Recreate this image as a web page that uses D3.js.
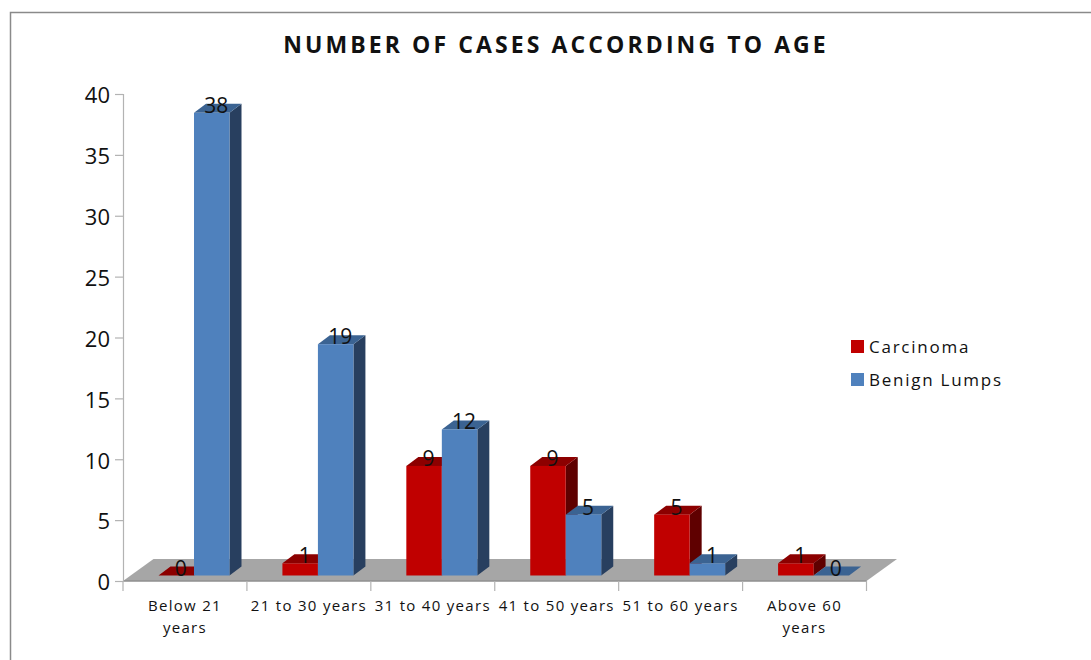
<!DOCTYPE html>
<html>
<head>
<meta charset="utf-8">
<script src="https://cdn.jsdelivr.net/npm/d3@7/dist/d3.min.js"></script>
<style>
  html, body { margin: 0; padding: 0; background: #fff; }
  svg { display: block; }
  text { font-family: "Open Sans", "Noto Sans", sans-serif; fill: #111; }
</style>
</head>
<body>
<svg id="chart" width="1091" height="660"></svg>
<script>
const categories = ['Below 21 years', '21 to 30 years', '31 to 40 years', '41 to 50 years', '51 to 60 years', 'Above 60 years'];
const wrappedLabels = [['Below 21', 'years'], ['21 to 30 years'], ['31 to 40 years'], ['41 to 50 years'], ['51 to 60 years'], ['Above 60', 'years']];
const seriesNames = ['Carcinoma', 'Benign Lumps'];
const carcinoma = [0, 1, 9, 9, 5, 1];
const benignLumps = [38, 19, 12, 5, 1, 0];
const yTicks = [0, 5, 10, 15, 20, 25, 30, 35, 40];
const chartTitle = 'NUMBER OF CASES ACCORDING TO AGE';

const svg = d3.select('#chart');

/* Scales */
const x0 = d3.scaleBand().domain(categories).range([123, 866.5]);
const x1 = d3.scaleBand().domain(seriesNames).range([35.5, 106.5]);
const y = d3.scaleLinear().domain([0, 40]).range([581, 94]);

const colors = {
  Carcinoma: { front: '#c00000', top: '#8c0000', side: '#5f0000' },
  'Benign Lumps': { front: '#4f81bd', top: '#3b6392', side: '#283f5f' }
};

/* Bars stand a little behind the front edge of the floor */
const barLift = 5.5;
const barDx = 12, barDy = 9;
const floorDx = 30.5, floorDy = 22;

/* Outer frame */
svg.append('path')
  .attr('d', 'M10.5,660V12.5H1091')
  .attr('fill', 'none')
  .attr('stroke', '#8a8a8a')
  .attr('stroke-width', 1.5);

/* Title */
svg.append('text')
  .attr('x', 556)
  .attr('y', 53)
  .attr('text-anchor', 'middle')
  .attr('font-size', 23)
  .attr('font-weight', 700)
  .attr('letter-spacing', 3.1)
  .text(chartTitle);

/* Floor */
const [fl, fr] = x0.range();
const fy = y(0);
svg.append('polygon')
  .attr('points', [[fl, fy], [fr, fy], [fr + floorDx, fy - floorDy], [fl + floorDx, fy - floorDy]].join(' '))
  .attr('fill', '#a6a6a6');
svg.append('line')
  .attr('x1', fl).attr('x2', fr).attr('y1', fy).attr('y2', fy)
  .attr('stroke', '#8f8f8f').attr('stroke-width', 1.5);

/* Y Axis */
const yAxis = d3.axisLeft(y).tickValues(yTicks).tickSize(8).tickPadding(5).tickSizeOuter(8);
const yG = svg.append('g').attr('transform', 'translate(123,0)').call(yAxis);
yG.selectAll('path, line').attr('stroke', '#b3b3b3').attr('stroke-width', 1.2);
yG.selectAll('text').attr('font-size', 22).attr('dy', '0.4em').attr('font-family', '"Open Sans", sans-serif').attr('fill', '#111');

/* X Axis, ticks sit on the category boundaries */
const xAxis = d3.axisBottom(x0).tickSize(0).tickPadding(15).tickFormat('');
const xG = svg.append('g').attr('transform', `translate(0,${fy})`).call(xAxis);
xG.select('path').remove();
xG.selectAll('.tick').remove();
xG.selectAll('line.boundary')
  .data(d3.range(categories.length + 1))
  .enter()
  .append('line')
  .attr('class', 'boundary')
  .attr('x1', i => fl + i * x0.step())
  .attr('x2', i => fl + i * x0.step())
  .attr('y1', 0)
  .attr('y2', 10)
  .attr('stroke', '#b3b3b3')
  .attr('stroke-width', 1.2);

const xLabels = xG.selectAll('text.cat')
  .data(categories)
  .enter()
  .append('text')
  .attr('class', 'cat')
  .attr('text-anchor', 'middle')
  .attr('font-size', 15)
  .attr('letter-spacing', 1.3);
xLabels.selectAll('tspan')
  .data((d, i) => wrappedLabels[i].map(line => ({ line, x: x0(d) + x0.bandwidth() / 2 })))
  .enter()
  .append('tspan')
  .attr('x', d => d.x)
  .attr('y', (d, i) => 30 + i * 22)
  .text(d => d.line);

/* Bars */
const rows = [];
seriesNames.forEach((name, s) => {
  const values = s === 0 ? carcinoma : benignLumps;
  categories.forEach((cat, i) => rows.push({ name, cat, value: values[i] }));
});

const barX = d => x0(d.cat) + x1(d.name);
const barTop = d => y(d.value) - barLift;
const bw = x1.bandwidth();

const bars = svg.selectAll('g.bar')
  .data(rows)
  .enter()
  .append('g')
  .attr('class', 'bar');

bars.append('polygon')
  .attr('fill', d => colors[d.name].side)
  .attr('points', d => {
    const r = barX(d) + bw, t = barTop(d), b = y(0) - barLift;
    return [[r, t], [r + barDx, t - barDy], [r + barDx, b - barDy], [r, b]].join(' ');
  });
bars.append('polygon')
  .attr('fill', d => colors[d.name].top)
  .attr('points', d => {
    const l = barX(d), t = barTop(d);
    return [[l, t], [l + bw, t], [l + bw + barDx, t - barDy], [l + barDx, t - barDy]].join(' ');
  });
bars.append('rect')
  .attr('x', barX)
  .attr('y', barTop)
  .attr('width', bw)
  .attr('height', d => y(0) - y(d.value))
  .attr('fill', d => colors[d.name].front);

/* Data labels */
svg.selectAll('text.value')
  .data(rows)
  .enter()
  .append('text')
  .attr('class', 'value')
  .attr('x', d => barX(d) + bw / 2 + 4.5)
  .attr('y', d => barTop(d))
  .attr('text-anchor', 'middle')
  .attr('font-size', 21)
  .text(d => d.value);

/* Legend */
const legendY = d3.scalePoint().domain(seriesNames).range([346.5, 379.5]);
const legend = svg.selectAll('g.legend')
  .data(seriesNames)
  .enter()
  .append('g')
  .attr('class', 'legend')
  .attr('transform', d => `translate(851,${legendY(d)})`);
legend.append('rect')
  .attr('y', -6.5)
  .attr('width', 13)
  .attr('height', 13)
  .attr('fill', d => colors[d].front);
legend.append('text')
  .attr('x', 18)
  .attr('y', 6)
  .attr('font-size', 17)
  .attr('letter-spacing', 1.75)
  .text(d => d);
</script>
</body>
</html>
